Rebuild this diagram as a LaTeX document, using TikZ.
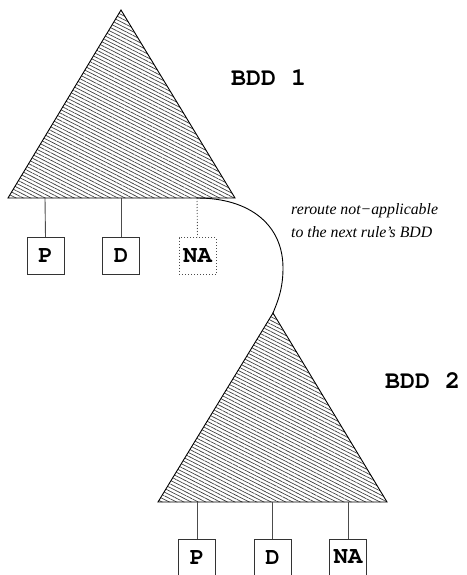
\documentclass[tikz,border=0pt]{standalone}
\usepackage[T1]{fontenc}
\usepackage{fontspec}
\setmainfont{Liberation Serif}
\setmonofont{Liberation Mono}
\usetikzlibrary{patterns.meta}
\newcommand{\courbold}{\fontencoding{T1}\fontfamily{pcr}\fontseries{b}\fontshape{n}\selectfont}
\begin{document}
\begin{tikzpicture}[x=1pt,y=-1pt,
  tri/.style={draw=black,line width=0.9pt,line join=miter,
    pattern={Lines[angle=-27,distance=3.3pt,line width=0.7pt]},pattern color=black!75},
  leaf/.style={draw=black!80,line width=0.9pt,minimum width=37pt,minimum height=37pt,
    inner sep=0pt,font=\fontsize{24}{24}\courbold},
  leafna/.style={leaf,draw=black!70,dash pattern=on 1pt off 2pt},
  link/.style={draw=black!70,line width=0.9pt},
  linkna/.style={draw=black!70,line width=0.9pt,dash pattern=on 1pt off 2pt},
  bddlabel/.style={anchor=west,inner sep=0pt,font=\fontsize{25}{25}\courbold},
  note/.style={anchor=north west,inner sep=0pt,align=left,
    font=\itshape\fontsize{15.8}{23}\selectfont}]
\useasboundingbox (0,0) rectangle (466,575);
% BDD 1
\coordinate (t1a) at (121,10);
\coordinate (t1l) at (8,198);
\coordinate (t1r) at (235,198);
\path[tri] (t1a) -- (t1l) -- (t1r) -- cycle;
\coordinate (b1p) at (45,198);
\coordinate (b1d) at (121,198);
\coordinate (b1n) at (197,198);
\node[leaf] (p1) at (45.5,256) {P};
\node[leaf] (d1) at (121,256) {D};
\node[leafna] (n1) at (197.5,256) {NA};
\draw[link] (b1p) -- (p1.north);
\draw[link] (b1d) -- (d1.north);
\draw[linkna] (b1n) -- (n1.north);
\node[bddlabel] (l1) at (231,78) {BDD 1};
% BDD 2
\coordinate (t2a) at (273,313);
\coordinate (t2l) at (158,502);
\coordinate (t2r) at (387,502);
\path[tri] (t2a) -- (t2l) -- (t2r) -- cycle;
\coordinate (b2p) at (197,502);
\coordinate (b2d) at (272.5,502);
\coordinate (b2n) at (348,502);
\node[leaf] (p2) at (197,557.5) {P};
\node[leaf] (d2) at (272.5,557.5) {D};
\node[leaf] (n2) at (348,557.5) {NA};
\draw[link] (b2p) -- (p2.north);
\draw[link] (b2d) -- (d2.north);
\draw[link] (b2n) -- (n2.north);
\node[bddlabel] (l2) at (385,381) {BDD 2};
% reroute
\coordinate (bend) at (283,268);
\draw[line width=0.9pt] (b1n) .. controls (250,198) and (283,225) .. (bend)
  .. controls (283,290) and (277,303) .. (t2a);
\node[note] (note) at (291,203) {reroute not−applicable\\to the next rule’s BDD};
\end{tikzpicture}
\end{document}
